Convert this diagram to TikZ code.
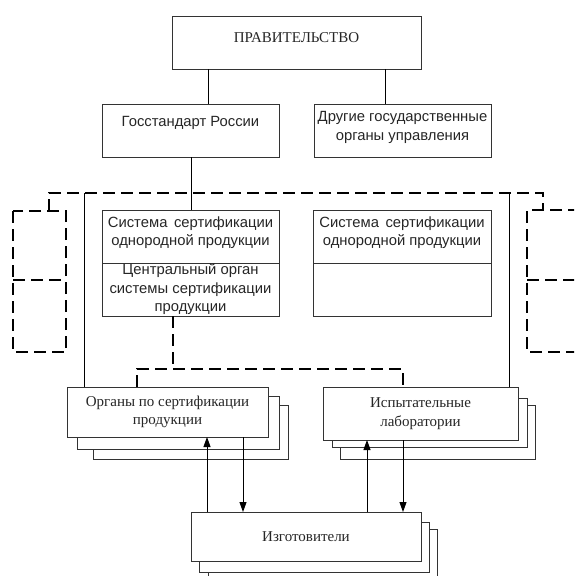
\documentclass[tikz,border=0pt]{standalone}
\usepackage{fontspec}
\setmainfont{Liberation Serif}
\newfontfamily\sansf{Liberation Sans}
\usetikzlibrary{arrows.meta}
\tikzset{
  box/.style={draw=black!80, line width=0.9pt, fill=white, inner sep=0pt, outer sep=0pt},
  txt/.style={text=black!85, align=center, inner sep=0pt, font=\fontsize{15}{18.5}\selectfont},
  stxt/.style={text=black!85, align=center, inner sep=0pt, font=\sansf\fontsize{14.8}{18.5}\selectfont},
  conn/.style={draw=black, line width=0.9pt},
  dashconn/.style={draw=black, line width=1.8pt, dash pattern=on 12pt off 6pt},
  arr/.style={conn, -{Triangle[length=10pt,width=7pt]}},
}
\begin{document}
\begin{tikzpicture}[x=1pt,y=-1pt]
\useasboundingbox (0,0) rectangle (574,576);
\clip (0,0) rectangle (574,576);
% coordinates
\coordinate (gx1) at (208,0);
\coordinate (gx2) at (385,0);
\coordinate (gsx) at (191,0);
% top boxes
\node[box, minimum width=249, minimum height=53] (gov) at (296.5,42.5) {};
\node[txt] (govt) at (296.5,38) {ПРАВИТЕЛЬСТВО};
\node[box, minimum width=177, minimum height=53] (gos) at (190.5,130.5) {};
\node[stxt] (gost) at (190.5,123) {Госстандарт России};
\node[box, minimum width=177, minimum height=53] (oth) at (402.5,130.5) {};
\node[stxt] (otht) at (402.5,127.5) {Другие государственные\\органы управления};
\draw[conn] (gov.south -| gx1) -- (gos.north -| gx1);
\draw[conn] (gov.south -| gx2) -- (oth.north -| gx2);
% dashed outer frame
\coordinate (fl) at (49,211);
\coordinate (fr) at (543,210);
\draw[dashconn] (fl) -- (49,193) -- (543,193) -- (fr);
\draw[dashconn] (13,211) rectangle (66,352);
\draw[dashconn] (13,280) -- (66,280);
\draw[dashconn] (580,210) -- (527,210) -- (527,352) -- (580,352);
\draw[dashconn] (527,280) -- (580,280);
% system boxes
\node[box, minimum width=177, minimum height=53] (sa1) at (190.5,236.5) {};
\node[stxt] (sa1t) at (190.5,232.5) {Система\, сертификации\\однородной продукции};
\node[box, minimum width=177, minimum height=53] (sa2) at (190.5,289.5) {};
\node[stxt] (sa2t) at (190.5,289.5) {Центральный орган\\системы сертификации\\продукции};
\node[box, minimum width=178, minimum height=53] (sb1) at (402,236.5) {};
\node[stxt] (sb1t) at (402,232.5) {Система\, сертификации\\однородной продукции};
\node[box, minimum width=178, minimum height=53] (sb2) at (402,289.5) {};
\draw[conn] (gos.south -| gsx) -- (sa1.north -| gsx);
% lower boxes with shadows
\node[box, minimum width=195, minimum height=54] (org2) at (190.5,432) {};
\node[box, minimum width=202, minimum height=53] (org1) at (178,422.5) {};
\node[box, minimum width=201, minimum height=50] (org) at (167.5,412) {};
\node[txt] (orgt) at (167.5,412) {Органы по сертификации\\продукции};
\node[box, minimum width=195, minimum height=54] (lab2) at (437.5,432) {};
\node[box, minimum width=195, minimum height=49] (lab1) at (429.5,422.5) {};
\node[box, minimum width=195, minimum height=53] (lab) at (420.5,413.5) {};
\node[txt] (labt) at (420.5,413.5) {Испытательные\\лаборатории};
\node[box, minimum width=229, minimum height=60] (mfr2) at (322.5,559) {};
\node[box, minimum width=230, minimum height=50] (mfr1) at (314,547) {};
\node[box, minimum width=230, minimum height=49] (mfr) at (306,536.5) {};
\node[txt] (mfrt) at (306,537) {Изготовители};
% solid frame verticals
\coordinate (vl) at (84,193);
\coordinate (vr) at (509,193);
\draw[conn] (vl) -- (org.north -| vl);
\draw[conn] (vr) -- (lab.north -| vr);
% dashed links from central organ
\coordinate (dx1) at (173,369);
\coordinate (dx2) at (137,369);
\coordinate (dx3) at (403,369);
\draw[dashconn] (sa2.south -| dx1) -- (dx1);
\draw[dashconn] (org.north -| dx2) -- (dx2) -- (dx3) -- (lab.north -| dx3);
% arrows
\coordinate (a1) at (207,0);
\coordinate (a2) at (243,0);
\coordinate (a3) at (367,0);
\coordinate (a4) at (403,0);
\draw[arr] (mfr.north -| a1) -- (org.south -| a1);
\draw[arr] (org.south -| a2) -- (mfr.north -| a2);
\draw[arr] (mfr.north -| a3) -- (lab.south -| a3);
\draw[arr] (lab.south -| a4) -- (mfr.north -| a4);
\end{tikzpicture}
\end{document}
